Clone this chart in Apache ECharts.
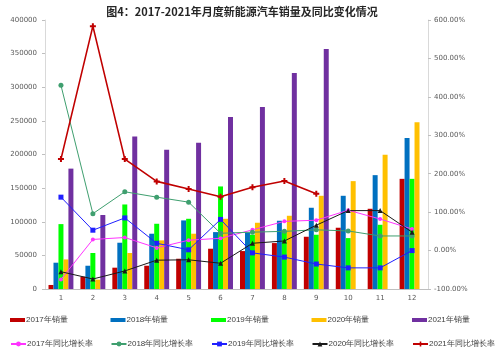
<!DOCTYPE html>
<html>
<head>
<meta charset="utf-8">
<script src="https://cdn.jsdelivr.net/npm/echarts@6/dist/echarts.min.js"></script>
<style>
  html, body { margin: 0; padding: 0; background: #fff; }
  #chart { width: 499px; height: 354px; }
</style>
</head>
<body>
<div id="chart"></div>
<script>
const months = ["1", "2", "3", "4", "5", "6", "7", "8", "9", "10", "11", "12"];

// monthly sales (vehicles)
const sales2017 = [6000, 18300, 31700, 34600, 45000, 59900, 56400, 68300, 77700, 91100, 119300, 163800];
const sales2018 = [39100, 34600, 68800, 82200, 102000, 84600, 84200, 101500, 120800, 138600, 169300, 224700];
const sales2019 = [96500, 53500, 125700, 97000, 104400, 152500, 80700, 85600, 80700, 75700, 95500, 163800];
const sales2020 = [44000, 13900, 53500, 72300, 82200, 104400, 98500, 108900, 138600, 160400, 199500, 248000];
const sales2021 = [179000, 110000, 226700, 206900, 217300, 255900, 270800, 321300, 356900, null, null, null];

// year-on-year growth (%)
const growth2017 = [-75, 29, 34, 7, 27, 32, 54, 76, 79, 105, 82, 56];
const growth2018 = [430, 96, 153, 139, 126, 45, 48, 50, 54, 51, 38, 38];
const growth2019 = [139, 53, 85, 19, 2, 81, -6, -17, -35, -45, -45, 0];
const growth2020 = [-55, -74, -53, -25, -24, -33, 19, 25, 66, 104, 104, 48];
const growth2021 = [238, 584, 238, 180, 160, 140, 165, 181, 148, null, null, null];

let chart = echarts.init(document.getElementById("chart"));

const labelFont = { fontSize: 7, color: "#595959", fontFamily: "DejaVu Sans" };
const plusSymbol = "path://M2,0H4V2H6V4H4V6H2V4H0V2H2Z";

function barSerie(name, data, color) {
  return {
    name: name,
    type: "bar",
    data: data,
    itemStyle: { color: color },
    barGap: "0%",
    barCategoryGap: "22%",
  };
}

function lineSerie(name, data, color, symbol, size, width) {
  return {
    name: name,
    type: "line",
    yAxisIndex: 1,
    data: data,
    symbol: symbol,
    symbolSize: size,
    itemStyle: { color: color },
    lineStyle: { color: color, width: width },
    z: 5,
  };
}

const barNames = ["2017年销量", "2018年销量", "2019年销量", "2020年销量", "2021年销量"];
const lineNames = ["2017年同比增长率", "2018年同比增长率", "2019年同比增长率", "2020年同比增长率", "2021年同比增长率"];

// one legend per item so the columns line up like the original
let legends = [];
for (let i = 0; i < 5; i++) {
  legends.push({
    data: [barNames[i]],
    left: 5 + i * 100.5,
    top: 311,
    itemWidth: 15,
    itemHeight: 4,
    itemGap: 0,
    textStyle: { fontSize: 8, color: "#404040", padding: [0, 0, 0, -4] },
    icon: "rect",
    selectedMode: false,
  });
  legends.push({
    data: [lineNames[i]],
    left: 5 + i * 100.5,
    top: 335,
    itemWidth: 15,
    itemHeight: 6,
    itemGap: 0,
    textStyle: { fontSize: 8, color: "#404040", padding: [0, 0, 0, -4] },
    selectedMode: false,
  });
}

let option = {
  animation: false,
  backgroundColor: "#fff",
  title: {
    text: "图4：2017-2021年月度新能源汽车销量及同比变化情况",
    left: 237,
    textAlign: "center",
    top: 1,
    textStyle: { fontSize: 11, fontWeight: "bold", color: "#262626", fontFamily: "Noto Sans CJK SC" },
  },
  legend: legends,
  grid: { left: 45, right: 71, top: 20, bottom: 65 },
  xAxis: {
    type: "category",
    data: months,
    axisLine: { lineStyle: { color: "#bfbfbf" } },
    axisTick: { alignWithLabel: false, length: 4, lineStyle: { color: "#bfbfbf" } },
    axisLabel: Object.assign({ margin: 6 }, labelFont),
  },
  yAxis: [
    {
      type: "value",
      min: 0,
      max: 400000,
      interval: 50000,
      axisLine: { show: true, lineStyle: { color: "#d9d9d9" } },
      axisTick: { show: true, length: 3, lineStyle: { color: "#bfbfbf" } },
      splitLine: { show: false },
      axisLabel: Object.assign({ margin: 8, formatter: (v) => String(v) }, labelFont),
    },
    {
      type: "value",
      min: -100,
      max: 600,
      interval: 100,
      axisLine: { show: true, lineStyle: { color: "#d9d9d9" } },
      axisTick: { show: true, length: 3, lineStyle: { color: "#bfbfbf" } },
      splitLine: { show: false },
      axisLabel: Object.assign(
        {
          margin: 6,
          formatter: (v) => v.toFixed(2) + "%",
        },
        labelFont
      ),
    },
  ],
  series: [
    barSerie(barNames[0], sales2017, "#c00000"),
    barSerie(barNames[1], sales2018, "#0070c0"),
    barSerie(barNames[2], sales2019, "#00ff00"),
    barSerie(barNames[3], sales2020, "#ffc000"),
    barSerie(barNames[4], sales2021, "#7030a0"),
    lineSerie(lineNames[0], growth2017, "#ff33ff", "circle", 4, 1),
    lineSerie(lineNames[1], growth2018, "#3f9f6f", "circle", 5, 1),
    lineSerie(lineNames[2], growth2019, "#1f1fff", "rect", 5, 1),
    lineSerie(lineNames[3], growth2020, "#1a1a1a", "triangle", 5, 1),
    lineSerie(lineNames[4], growth2021, "#c00000", plusSymbol, 6, 1.6),
  ],
};

chart.setOption(option);
</script>
</body>
</html>
